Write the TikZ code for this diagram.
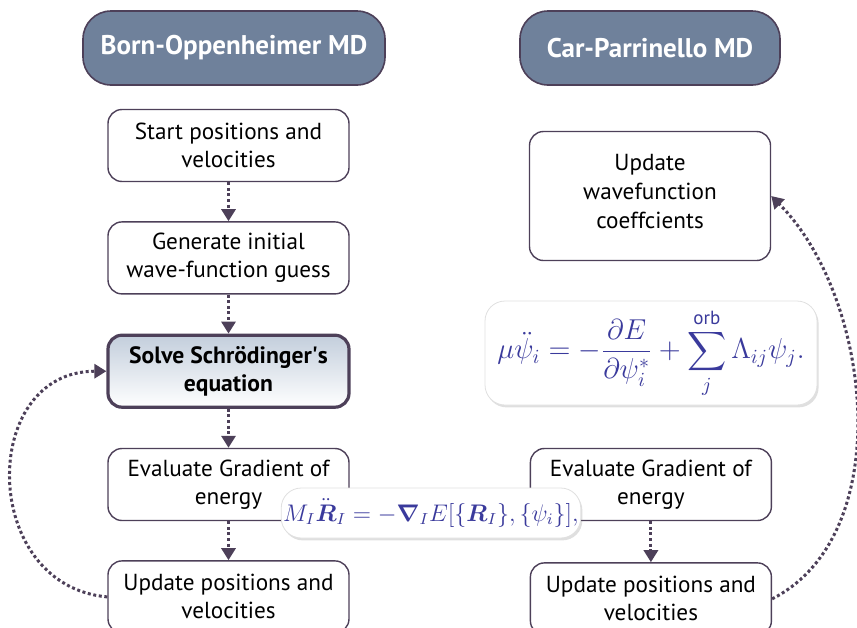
\documentclass[tikz,border=0pt]{standalone}
\usepackage{fontspec}
\setmainfont{PT Sans}
\usepackage{amsmath}
\usepackage{amssymb}
\usetikzlibrary{positioning,shadows,arrows.meta}

\definecolor{hdrfill}{HTML}{6F819B}
\definecolor{edgepurple}{HTML}{4D4059}
\definecolor{eqblue}{HTML}{3A3A9C}
\definecolor{solvetop}{HTML}{C3CEDC}

\tikzset{
  header/.style={draw=edgepurple, line width=0.8pt, fill=hdrfill, rounded corners=14pt,
    text=white, font=\bfseries\fontsize{13.5}{15}\selectfont,
    minimum width=151pt, minimum height=37pt},
  stepbox/.style={draw=edgepurple, line width=0.7pt, fill=white, rounded corners=7pt,
    align=center, minimum width=120.5pt, minimum height=36pt, inner sep=2pt,
    font=\fontsize{11.6}{14}\selectfont},
  solvebox/.style={stepbox, line width=1.6pt, top color=solvetop, bottom color=white,
    font=\bfseries\fontsize{11.8}{14}\selectfont},
  eqbox/.style={draw=black!12, fill=white, rounded corners=10pt, text=eqblue,
    drop shadow={shadow xshift=0.8pt, shadow yshift=-1.2pt, opacity=0.25}},
  flow/.style={-{Triangle[width=7pt,length=6pt]}, draw=edgepurple, line width=1.5pt,
    dash pattern=on 1.5pt off 1.3pt}
}

\begin{document}
\begin{tikzpicture}[x=0.5pt, y=-0.5pt, node distance=19.5pt]
  \useasboundingbox (0,0) rectangle (857,627);

  % column titles
  \node[header] (bo) at (234,48) {Born-Oppenheimer MD};
  \node[header, minimum width=130pt] (cp) at (650,48) {Car-Parrinello MD};

  % Born-Oppenheimer loop
  \node[stepbox] (start) at (228.5,145.5) {Start positions and\\velocities};
  \node[stepbox, below=of start] (guess) {Generate initial\\wave-function guess};
  \node[solvebox, below=of guess] (solve) {Solve Schrödinger\textquotesingle s\\equation};
  \node[stepbox, below=of solve] (gradL) {Evaluate Gradient of\\energy};
  \node[stepbox, below=of gradL] (moveL) {Update positions and\\velocities};

  % Car-Parrinello loop
  \node[stepbox, minimum height=64.5pt, font=\fontsize{11.6}{14.5}\selectfont] (wfc) at (650,196)
    {Update\\wavefunction\\coeffcients\\[-10pt]};
  \node[stepbox, right=90pt of gradL] (gradR) {Evaluate Gradient of\\energy};
  \node[stepbox, below=20.5pt of gradR] (moveR) {Update positions and\\velocities};

  \draw[flow] (start) -- (guess);
  \draw[flow] (guess) -- (solve);
  \draw[flow] (solve) -- (gradL);
  \draw[flow] (gradL) -- (moveL);
  \draw[flow] (moveL.west) to[out=175, in=180, looseness=1.45] (solve.west);

  \draw[flow] (gradR) -- (moveR);
  \draw[flow] (moveR.east) to[out=27, in=-45, looseness=0.9] (wfc.east);

  % equations of motion
  \node[eqbox, minimum width=146.5pt, minimum height=25pt, inner sep=1pt] (eqbo) at (431,513)
    {\fontsize{11.5}{13}\selectfont
     $M_I\ddot{\boldsymbol{R}}_I=-\boldsymbol{\nabla}_I E[\{\boldsymbol{R}_I\},\{\psi_i\}],$};
  \node[eqbox, minimum width=166pt, minimum height=52pt] (eqcp) at (651,353)
    {\fontsize{13.6}{16}\selectfont
     $\displaystyle \mu\ddot{\psi}_i=-\frac{\partial E}{\partial\psi_i^*}
      +\sum_j^{\text{orb}}\Lambda_{ij}\psi_j.$};
\end{tikzpicture}
\end{document}
